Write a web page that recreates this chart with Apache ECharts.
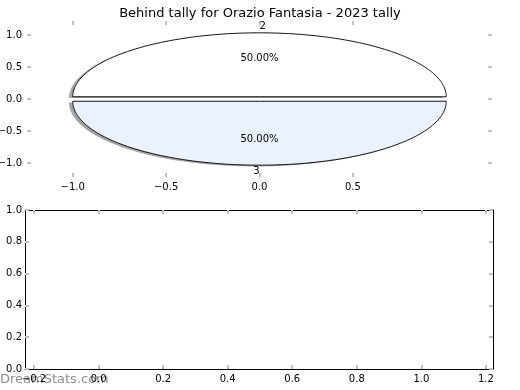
<!DOCTYPE html>
<html>
<head>
<meta charset="utf-8">
<script src="https://cdn.jsdelivr.net/npm/echarts@6/dist/echarts.min.js"></script>
<style>
html,body{margin:0;padding:0;background:#fff;}
#main{width:520px;height:390px;}
</style>
</head>
<body>
<div id="main"></div>
<script>
// ---- data ----
var sliceNames = ['2', '3'];
var sliceValues = [1, 1];
var sliceColors = ['#ffffff', '#ebf2fe'];
var topXTicks = [-1.0, -0.5, 0.0, 0.5];
var topYTicks = [-1.0, -0.5, 0.0, 0.5, 1.0];
var botXTicks = [-0.2, 0.0, 0.2, 0.4, 0.6, 0.8, 1.0, 1.2];
var botYTicks = [0.0, 0.2, 0.4, 0.6, 0.8, 1.0];
var titleText = 'Behind tally for Orazio Fantasia - 2023 tally';

var FONT = 'DejaVu Sans';
var EXPLODE = 0.035;
var SHADOW_OFF = [-0.02, -0.02];
var tickColor = '#c0c0c0';

function fmt(v) {
  var s = Number(v).toFixed(1);
  if (s === '-0.0') s = '0.0';
  return s.replace('-', '\u2212');
}

var total = sliceValues.reduce(function (a, b) { return a + b; }, 0);
var starts = [];
(function () {
  var acc = 0;
  for (var i = 0; i < sliceValues.length; i++) { starts.push(acc); acc += sliceValues[i]; }
})();

function shade(hex, f) {
  var r = parseInt(hex.substr(1, 2), 16), g = parseInt(hex.substr(3, 2), 16), b = parseInt(hex.substr(5, 2), 16);
  return 'rgba(' + Math.round(r * f) + ',' + Math.round(g * f) + ',' + Math.round(b * f) + ',0.5)';
}

function wedgePoints(api, i, dx, dy) {
  var t1 = starts[i] / total * 2 * Math.PI;
  var t2 = (starts[i] + sliceValues[i]) / total * 2 * Math.PI;
  var tm = (t1 + t2) / 2;
  var cx = EXPLODE * Math.cos(tm) + dx, cy = EXPLODE * Math.sin(tm) + dy;
  var pts = [api.coord([cx, cy])];
  var n = 180;
  for (var k = 0; k <= n; k++) {
    var t = t1 + (t2 - t1) * k / n;
    pts.push(api.coord([cx + Math.cos(t), cy + Math.sin(t)]));
  }
  return pts;
}

var axisLabelStyle = { fontFamily: FONT, fontSize: 10, color: '#000' };

function mkAxis(type, gridIndex, pos, min, max, ticks, showLabel, showLine, margin) {
  return {
    type: 'value', gridIndex: gridIndex, position: pos, min: min, max: max,
    axisLine: { show: showLine, onZero: false, lineStyle: { color: '#000', width: 1 } },
    axisTick: { show: true, inside: true, length: 4, customValues: ticks, lineStyle: { color: tickColor, width: 2 } },
    axisLabel: Object.assign({ show: showLabel, customValues: ticks, formatter: fmt, margin: margin, hideOverlap: false }, axisLabelStyle),
    splitLine: { show: false }
  };
}

var chart = echarts.init(document.getElementById('main'), null, { renderer: 'canvas' });

var option = {
  animation: false,
  backgroundColor: '#fff',
  title: {
    text: titleText, left: 'center', top: 2,
    textStyle: { fontFamily: FONT, fontSize: 13, fontWeight: 'normal', color: '#000' }
  },
  grid: [
    { left: 27, width: 465, top: 21, height: 156, containLabel: false, outerBoundsMode: 'none' },
    { left: 25, width: 468, top: 210, height: 159, containLabel: false, outerBoundsMode: 'none' }
  ],
  xAxis: [
    mkAxis('x', 0, 'bottom', -1.245, 1.245, topXTicks, true, false, 5),
    mkAxis('x', 0, 'top', -1.245, 1.245, topXTicks, false, false, 5),
    mkAxis('x', 1, 'bottom', -0.228, 1.222, botXTicks, true, true, 5),
    mkAxis('x', 1, 'top', -0.228, 1.222, botXTicks, false, true, 5)
  ],
  yAxis: [
    mkAxis('y', 0, 'left', -1.22, 1.22, topYTicks, true, false, 5),
    mkAxis('y', 0, 'right', -1.22, 1.22, topYTicks, false, false, 5),
    mkAxis('y', 1, 'left', 0, 1, botYTicks, true, true, 3),
    mkAxis('y', 1, 'right', 0, 1, botYTicks, false, true, 3)
  ],
  graphic: [{
    type: 'text', left: 0, top: 373, z: 0,
    style: { text: 'DreamStats.com', fill: 'rgba(120,120,120,0.85)', font: '13px "DejaVu Sans"' }
  }],
  series: [
    {
      type: 'custom', name: 'shadow', coordinateSystem: 'cartesian2d', xAxisIndex: 0, yAxisIndex: 0, z: 1,
      data: sliceValues.map(function (v, i) { return { name: sliceNames[i], value: [0, 0, v] }; }),
      renderItem: function (params, api) {
        var i = params.dataIndex;
        return {
          type: 'polygon',
          shape: { points: wedgePoints(api, i, SHADOW_OFF[0], SHADOW_OFF[1]) },
          style: { fill: shade(sliceColors[i], 0.3), stroke: null }
        };
      }
    },
    {
      type: 'custom', name: 'pie', coordinateSystem: 'cartesian2d', xAxisIndex: 0, yAxisIndex: 0, z: 2,
      data: sliceValues.map(function (v, i) { return { name: sliceNames[i], value: [0, 0, v] }; }),
      renderItem: function (params, api) {
        var i = params.dataIndex;
        var t1 = starts[i] / total * 2 * Math.PI;
        var t2 = (starts[i] + sliceValues[i]) / total * 2 * Math.PI;
        var tm = (t1 + t2) / 2;
        var cx = EXPLODE * Math.cos(tm), cy = EXPLODE * Math.sin(tm);
        var lx = cx + 1.1 * Math.cos(tm), ly = cy + 1.1 * Math.sin(tm);
        var px = cx + 0.6 * Math.cos(tm), py = cy + 0.6 * Math.sin(tm);
        var lp = api.coord([lx, ly]);
        var pp = api.coord([px, py]);
        var pct = (sliceValues[i] / total * 100).toFixed(2) + '%';
        return {
          type: 'group',
          children: [
            {
              type: 'polygon',
              shape: { points: wedgePoints(api, i, 0, 0) },
              style: { fill: sliceColors[i], stroke: '#111', lineWidth: 1 }
            },
            {
              type: 'text', x: lp[0], y: lp[1],
              style: { text: sliceNames[i], fill: '#000', font: '10px "DejaVu Sans"',
                align: Math.cos(tm) > 0 ? 'left' : 'right', verticalAlign: 'middle' }
            },
            {
              type: 'text', x: pp[0], y: pp[1],
              style: { text: pct, fill: '#000', font: '10px "DejaVu Sans"', align: 'center', verticalAlign: 'middle' }
            }
          ]
        };
      }
    }
  ]
};
chart.setOption(option);
</script>
</body>
</html>
